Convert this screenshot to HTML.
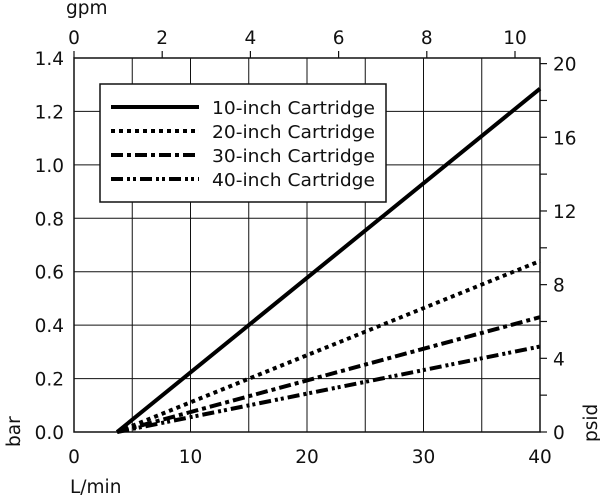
<!DOCTYPE html>
<html><head><meta charset="utf-8"><style>
body{margin:0;background:#fff;}
svg text{font-family:"DejaVu Sans","Liberation Sans",sans-serif;fill:#111;}
</style></head><body>
<svg width="600" height="498" viewBox="0 0 600 498">
<g id="grid"></g>
<g id="axes"></g>
<g id="series"></g>
<g id="legend"></g>
</svg>
<script>
const flowStart = [3.7, 3.7, 3.7, 3.7];
const flowEnd = [40, 40, 40, 40];
const barEnd = [1.285, 0.64, 0.43, 0.32];
const seriesNames = ["10-inch Cartridge","20-inch Cartridge","30-inch Cartridge","40-inch Cartridge"];
const lpmTicks = [0,10,20,30,40];
const barTicks = [0.0,0.2,0.4,0.6,0.8,1.0,1.2,1.4];
const gpmTicks = [0,2,4,6,8,10];
const psidTicks = [0,4,8,12,16,20];

const L=74,R=540,T=58,B=432;
const NS="http://www.w3.org/2000/svg";
const xS=v=>L+(v/40)*(R-L);
const yS=v=>B-(v/1.4)*(B-T);
const gX=g=>xS(g*3.78541);
const pY=p=>yS(p*0.0689476);
function mk(tag,attrs,parent){const e=document.createElementNS(NS,tag);for(const k in attrs)e.setAttribute(k,attrs[k]);parent.appendChild(e);return e;}
const grid=document.getElementById('grid'),axes=document.getElementById('axes'),ser=document.getElementById('series'),leg=document.getElementById('legend');

for(let v=5;v<40;v+=5){const l=mk('line',{x1:xS(v),x2:xS(v),y1:T,y2:B,stroke:'#111','stroke-width':1},grid);

}
for(let v=0.2;v<1.39;v+=0.2){const l=mk('line',{x1:L,x2:R,y1:yS(v),y2:yS(v),stroke:'#111','stroke-width':1},grid);

}
const fr=mk('rect',{x:L,y:T,width:R-L,height:B-T,fill:'none',stroke:'#111','stroke-width':1.5},axes);



lpmTicks.forEach(v=>{const t=mk('text',{x:xS(v),y:463,'font-size':18.5,'text-anchor':'middle'},axes);t.textContent=v;

});
barTicks.forEach(v=>{const t=mk('text',{x:64,y:yS(v)+7,'font-size':18.5,'text-anchor':'end'},axes);t.textContent=v.toFixed(1);

});
gpmTicks.forEach(v=>{mk('line',{x1:gX(v),x2:gX(v),y1:T,y2:T-7,stroke:'#111','stroke-width':1.2},axes);
const t=mk('text',{x:gX(v),y:44,'font-size':18.5,'text-anchor':'middle'},axes);t.textContent=v;

});
for(let p=0;p<=20;p+=2){mk('line',{x1:R,x2:R+7,y1:pY(p),y2:pY(p),stroke:'#111','stroke-width':1.2},axes);}
psidTicks.forEach(v=>{const t=mk('text',{x:553,y:pY(v)+7,'font-size':18.5,'text-anchor':'start'},axes);t.textContent=v;

});

const dashes=['', '4,4', '12,4,4,4', '12,4,3,3,3,4'];
seriesNames.forEach((n,i)=>{const l=mk('line',{x1:xS(flowStart[i]),y1:yS(0),x2:xS(flowEnd[i]),y2:yS(barEnd[i]),stroke:'#000','stroke-width':4,'stroke-dasharray':dashes[i]},ser);

});

const lb=mk('rect',{x:100,y:84,width:286,height:118,fill:'#fff',stroke:'#111','stroke-width':1.5},leg);


seriesNames.forEach((n,i)=>{const y=107+i*24;
const l=mk('line',{x1:111,x2:199,y1:y,y2:y,stroke:'#000','stroke-width':4,'stroke-dasharray':dashes[i]},leg);


const t=mk('text',{x:212,y:y+7,'font-size':18,textLength:163,lengthAdjust:'spacingAndGlyphs'},leg);t.textContent=n;

});

const labels=[["gpm",66,14],["L/min",70,493]];
labels.forEach(a=>{const t=mk('text',{x:a[1],y:a[2],'font-size':18.5},axes);t.textContent=a[0];

});
const yb=mk('text',{x:0,y:0,'font-size':18.5,transform:'translate(20,447) rotate(-90)'},axes);yb.textContent='bar';


const yp=mk('text',{x:0,y:0,'font-size':18.5,transform:'translate(597,442) rotate(-90)'},axes);yp.textContent='psid';


</script>
</body></html>
